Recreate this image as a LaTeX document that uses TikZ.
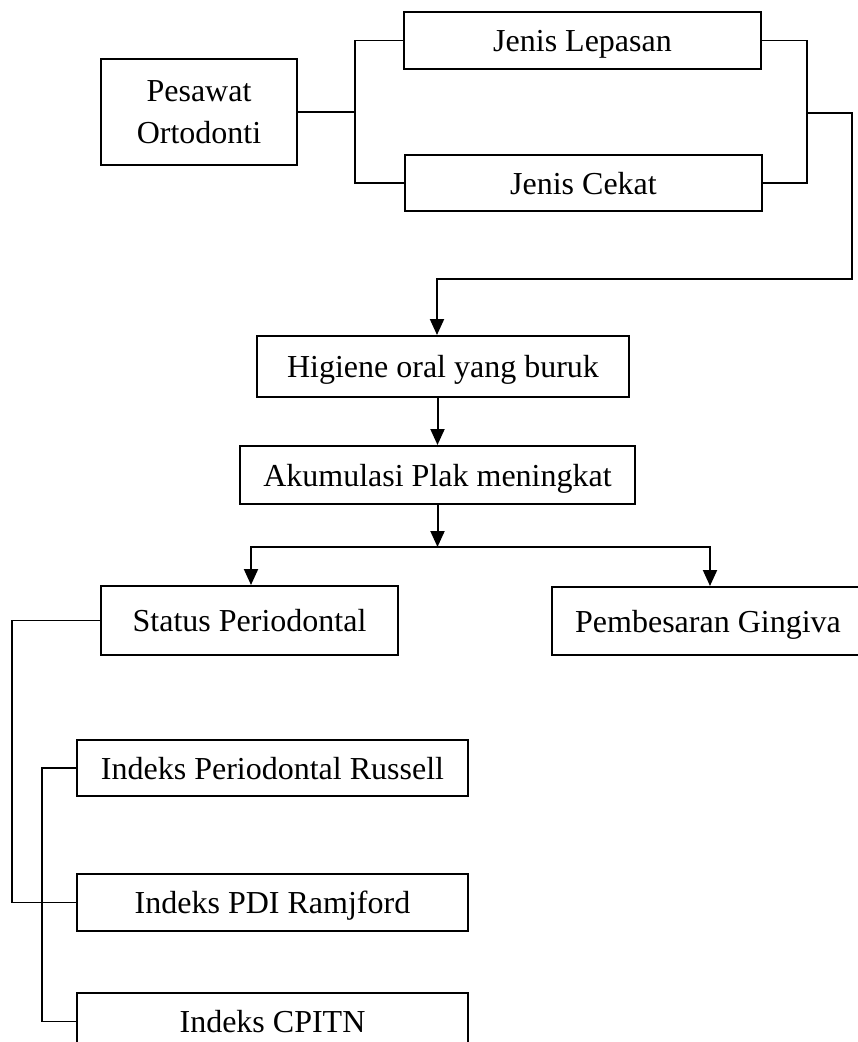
\documentclass[tikz,border=0pt]{standalone}
\usepackage{fontspec}
\setmainfont{Liberation Serif}
\usetikzlibrary{arrows.meta}

\tikzset{
    box/.style={draw, line width=2pt, inner sep=0pt, font=\fontsize{32}{42}\selectfont},
    onebox/.style={box, text height=24pt, text depth=2pt},
    link/.style={line width=1.5pt},
    arr/.style={line width=2pt, -{Triangle[length=16pt, width=14pt]}},
}

\begin{document}
\begin{tikzpicture}[x=1pt, y=-1pt]
    \useasboundingbox (0,0) rectangle (858,1042);
    % boxes
    \node[box, align=center, minimum width=196pt, minimum height=106pt] (pesawat) at (199,112) {Pesawat\\Ortodonti};
    \node[onebox, minimum width=357pt, minimum height=57pt] (lepasan) at (582.5,40.5) {Jenis Lepasan};
    \node[onebox, minimum width=357pt, minimum height=56pt] (cekat) at (583.5,183) {Jenis Cekat};
    \node[onebox, minimum width=372pt, minimum height=61pt] (higiene) at (443,366.5) {Higiene oral yang buruk};
    \node[onebox, minimum width=395pt, minimum height=58pt] (plak) at (437.5,475) {Akumulasi Plak meningkat};
    \node[onebox, minimum width=297pt, minimum height=69pt] (status) at (249.5,620.5) {Status Periodontal};
    \node[onebox, minimum width=312pt, minimum height=68pt] (gingiva) at (708,621) {Pembesaran Gingiva};
    \node[onebox, minimum width=391pt, minimum height=56pt] (russell) at (272.5,768) {Indeks Periodontal Russell};
    \node[onebox, minimum width=391pt, minimum height=57pt] (ramjford) at (272.5,902.5) {Indeks PDI Ramjford};
    \node[onebox, minimum width=391pt, minimum height=57pt] (cpitn) at (272.5,1021.5) {Indeks CPITN};
    % junctions
    \coordinate (jl) at (355,112);
    \coordinate (jr) at (807,113);
    \coordinate (turn) at (852,279);
    \coordinate (split) at (439,547);
    \coordinate (sl) at (12,622);
    \coordinate (rl) at (42,769);
    % connectors
    \draw[link] (pesawat.east) -- (jl);
    \draw[link] (lepasan.west) -| (jl) |- (cekat.west);
    \draw[link] (lepasan.east) -| (jr) |- (cekat.east);
    \draw[arr] (jr) -| (turn) -| ([xshift=-6pt]higiene.north);
    \draw[arr] (higiene.south -| plak.north) -- (plak.north);
    \draw[arr] (plak.south) -- (plak.south |- split);
    \draw[arr] (plak.south |- split) -| ([xshift=1.5pt]status.north);
    \draw[arr] (plak.south |- split) -| ([xshift=2pt]gingiva.north);
    \draw[link] (status.west) -| (sl) |- (ramjford.west);
    \draw[link] (russell.west) -| (rl) |- (cpitn.west);
\end{tikzpicture}
\end{document}
